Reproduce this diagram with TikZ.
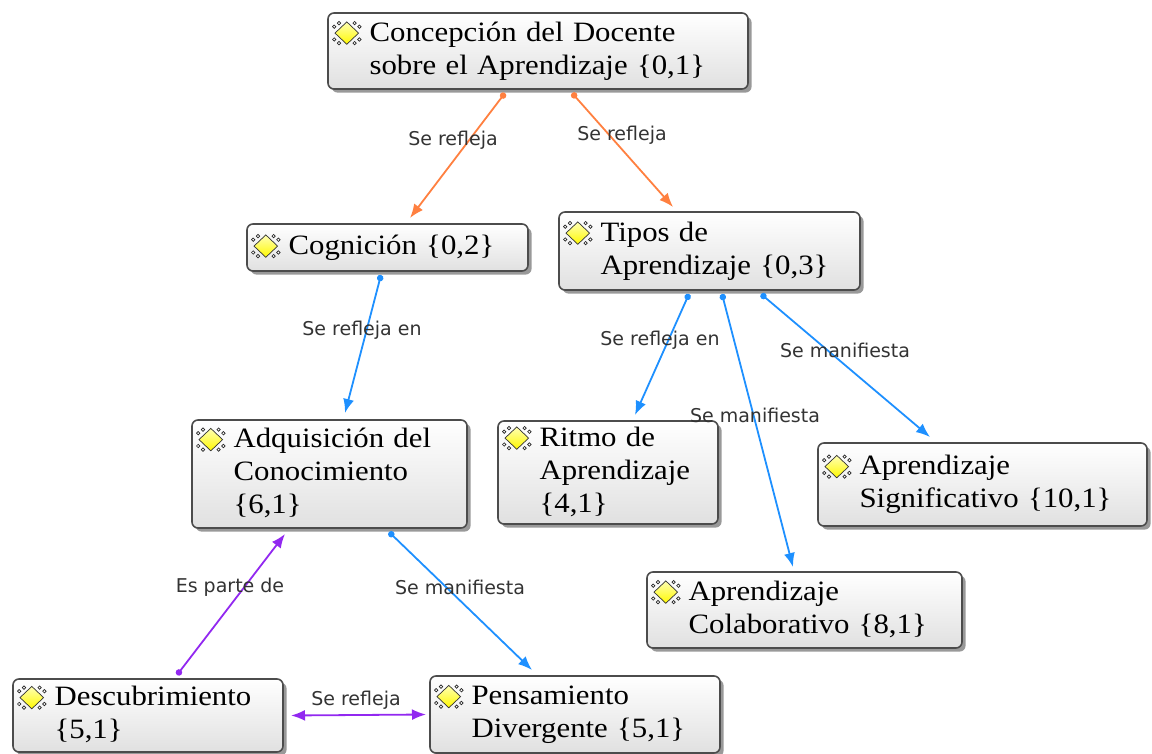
\documentclass[tikz,border=0pt]{standalone}
\usepackage{fontspec}
\setmainfont{Liberation Serif}[FakeStretch=1.1]
\newfontfamily\etiq{DejaVu Sans}
\usetikzlibrary{arrows.meta,shadows}

\definecolor{naranja}{RGB}{255,128,64}
\definecolor{azul}{RGB}{30,144,255}
\definecolor{violeta}{RGB}{146,40,240}

\newcommand{\icono}{\tikz[baseline={(0,-4pt)},x=1pt,y=1pt,line width=0.35pt,sharp corners]{%
  \useasboundingbox (-7.4,-6.2) rectangle (7.4,6.2);
  \foreach \sx in {-1,1} \foreach \sy in {-1,1} {
    \draw[draw=black!85,fill=white] (\sx*3.9,\sy*5.0) circle (0.85);
    \draw[draw=black!85,fill=white] (\sx*6.3,\sy*3.2) circle (0.85);
  }
  \draw[draw=black!80, top color=yellow!30, bottom color=yellow!95!orange]
    (0,5.6) -- (5.9,0) -- (0,-5.6) -- (-5.9,0) -- cycle;}}
\newcommand{\concepto}[1]{\icono\hspace{4pt}\begin{tabular}[t]{@{}l@{}}#1\end{tabular}}

\begin{document}
\begin{tikzpicture}[x=0.5pt, y=-0.5pt,
  caja/.style={anchor=north west, draw=black!70, line width=0.8pt, rounded corners=3pt,
    top color=white, bottom color=black!12,
    drop shadow={shadow xshift=1.8pt, shadow yshift=-1.8pt, fill=black, opacity=0.4},
    align=left, inner xsep=2pt, inner ysep=0pt, outer sep=0pt,
    font=\fontsize{14}{16.5}\selectfont},
  flecha/.style={line width=0.9pt, {Circle[length=3.2pt]}-{Latex[length=7pt,width=5.5pt]}},
  doble/.style={line width=0.9pt, {Latex[length=7pt,width=5.5pt]}-{Latex[length=7pt,width=5.5pt]}},
  etiqueta/.style={font=\etiq\fontsize{9.5}{11}\selectfont, text=black!80, inner sep=0pt}]

\useasboundingbox (0,0) rectangle (1152,754);

\node[caja, text width=206pt, minimum height=38pt] (1) at (328,13) {\concepto{Concepción del Docente\\sobre el Aprendizaje \{0,1\}}};
\node[caja, text width=136.5pt, minimum height=23.5pt] (2) at (247,224) {\concepto{Cognición \{0,2\}}};
\node[caja, text width=146.5pt, minimum height=39pt] (3) at (559,212) {\concepto{Tipos de\\Aprendizaje \{0,3\}}};
\node[caja, text width=133.5pt, minimum height=54pt] (4) at (192,420) {\concepto{Adquisición del\\Conocimiento\\\{6,1\}}};
\node[caja, text width=106pt, minimum height=51.5pt] (5) at (498,421) {\concepto{Ritmo de\\Aprendizaje\\\{4,1\}}};
\node[caja, text width=160.5pt, minimum height=41.5pt] (6) at (818,443) {\concepto{Aprendizaje\\Significativo \{10,1\}}};
\node[caja, text width=153.5pt, minimum height=38pt] (7) at (647,572) {\concepto{Aprendizaje\\Colaborativo \{8,1\}}};
\node[caja, text width=131pt, minimum height=36.5pt] (8) at (13,679) {\concepto{Descubrimiento\\\{5,1\}}};
\node[caja, text width=141pt, minimum height=38.5pt] (9) at (430,676) {\concepto{Pensamiento\\Divergente \{5,1\}}};

\path[draw,flecha,naranja] ([xshift=-16.5pt,yshift=-2pt]1.south) -- ([xshift=11.25pt,yshift=3pt]2.north)
  node[etiqueta] at (453,140) {Se refleja};
\path[draw,flecha,naranja] ([xshift=17pt,yshift=-2pt]1.south) -- ([xshift=-18.25pt,yshift=2.5pt]3.north)
  node[etiqueta] at (622,135) {Se refleja};
\path[draw,flecha,azul] ([xshift=-3.25pt,yshift=-2pt]2.south) -- ([xshift=7.75pt,yshift=3.5pt]4.north)
  node[etiqueta] at (362,330) {Se refleja en};
\path[draw,flecha,azul] ([xshift=-10.25pt,yshift=-2pt]3.south) -- ([xshift=13.5pt,yshift=3pt]5.north)
  node[etiqueta] at (660,340) {Se refleja en};
\path[draw,flecha,azul] ([xshift=6.25pt,yshift=-2pt]3.south) -- ([xshift=-5.75pt,yshift=2.5pt]7.north)
  node[etiqueta] at (755,415) {Se manifiesta};
\path[draw,flecha,azul] ([xshift=25.75pt,yshift=-2pt]3.south) -- ([xshift=-26.25pt,yshift=3pt]6.north)
  node[etiqueta] at (845,350) {Se manifiesta};
\path[draw,flecha,azul] ([xshift=29.75pt,yshift=-2pt]4.south) -- ([xshift=-21.5pt,yshift=3pt]9.north)
  node[etiqueta] at (460,587) {Se manifiesta};
\path[draw,flecha,violeta] ([xshift=14.5pt,yshift=2pt]8.north) -- ([xshift=-22.25pt,yshift=-3pt]4.south)
  node[etiqueta] at (230,587) {Es parte de};
\path[draw,doble,violeta] ([xshift=4pt]8.east) -- ([xshift=-2pt]9.west)
  node[etiqueta] at (356,700) {Se refleja};
\end{tikzpicture}
\end{document}
